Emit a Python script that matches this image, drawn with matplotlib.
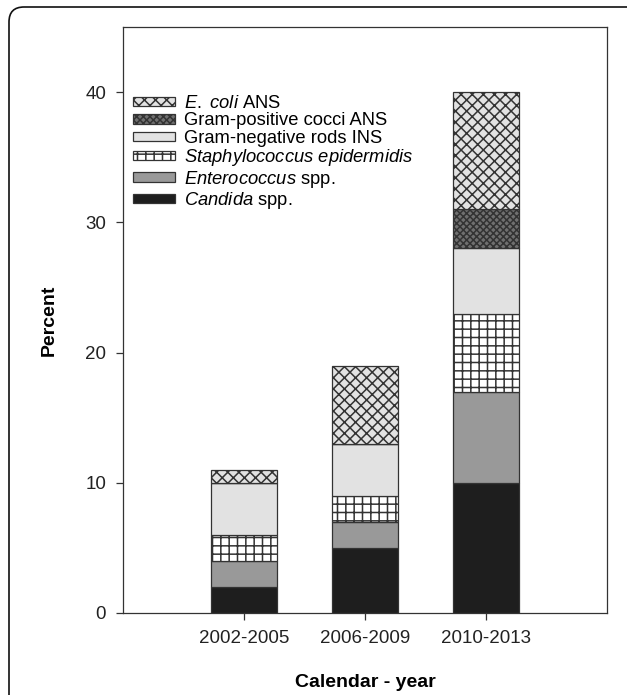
import matplotlib
matplotlib.use("Agg")
import matplotlib.pyplot as plt
import numpy as np
from matplotlib.patches import FancyBboxPatch
from matplotlib.transforms import IdentityTransform

plt.rcParams['font.family'] = ['Liberation Sans', 'DejaVu Sans']
plt.rcParams['mathtext.fontset'] = 'custom'
plt.rcParams['mathtext.rm'] = 'Liberation Sans'
plt.rcParams['mathtext.it'] = 'Liberation Sans:italic'
plt.rcParams['hatch.linewidth'] = 1.1

# data (percent per period)
periods = ['2002-2005', '2006-2009', '2010-2013']
candida = [2, 5, 10]
enterococcus = [2, 2, 7]
staph_epi = [2, 2, 6]
gram_neg_rods = [4, 4, 5]
gram_pos_cocci = [0, 0, 3]
e_coli = [1, 6, 9]

series = [
    (candida, r'$\mathit{Candida}$ spp.', '#1e1e1e', None),
    (enterococcus, r'$\mathit{Enterococcus}$ spp.', '#999999', None),
    (staph_epi, r'$\mathit{Staphylococcus\ epidermidis}$', 'white', '++'),
    (gram_neg_rods, 'Gram-negative rods INS', '#e2e2e2', None),
    (gram_pos_cocci, 'Gram-positive cocci ANS', '#707070', 'xxxxx'),
    (e_coli, r'$\mathit{E.\ coli}$ ANS', '#e2e2e2', 'xxx'),
]

fig = plt.figure(figsize=(6.27, 6.95), dpi=100)
ax = fig.add_axes([0.196, 0.118, 0.772, 0.843])

x = np.arange(1, len(periods) + 1)
bottom = np.zeros(len(periods))
for vals, lab, col, hat in series:
    vals = np.array(vals, dtype=float)
    ax.bar(x, vals, 0.55, bottom=bottom, color=col, edgecolor='#333333',
           linewidth=0.9, hatch=hat, label=lab)
    bottom += vals

ax.set_xlim(0, 4)
ax.set_ylim(0, 45)
ax.set_xticks(x)
ax.set_xticklabels(periods)
ax.set_yticks([0, 10, 20, 30, 40])
ax.tick_params(axis='both', labelsize=13.5, length=5, width=0.9, colors='#333333',
               labelcolor='#222222', direction='out', pad=7)
ax.tick_params(top=False, right=False)
for s in ax.spines.values():
    s.set_linewidth(0.9)
    s.set_color('#333333')

ax.set_ylabel('Percent', fontsize=14, fontweight='bold', labelpad=20)
ax.set_xlabel('Calendar - year', fontsize=14, fontweight='bold', labelpad=20)

h, l = ax.get_legend_handles_labels()
ax.legend(h[::-1], l[::-1], loc='upper left', bbox_to_anchor=(0.021, 0.884),
          borderaxespad=0, borderpad=0, frameon=False, fontsize=13.2,
          handlelength=2.3, handleheight=0.42, handletextpad=0.5,
          labelspacing=0.02)

# rounded outer frame
frame = FancyBboxPatch((9, -30), 660, 695 - 7 + 30,
                       boxstyle='round,pad=0,rounding_size=15',
                       transform=IdentityTransform(), facecolor='none',
                       edgecolor='#111111', linewidth=1.2)
fig.add_artist(frame)

fig.savefig('out.png', dpi=100)
